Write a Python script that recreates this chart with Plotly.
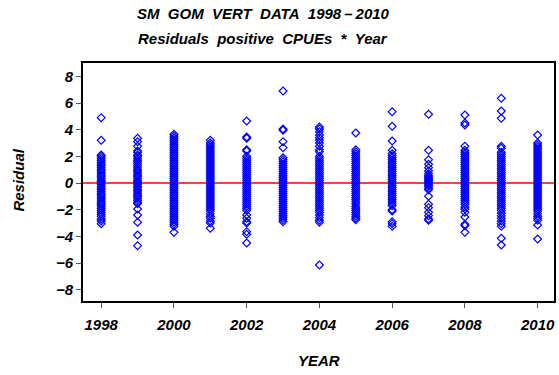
import plotly.graph_objects as go

years = list(range(1998, 2011))

r1998 = [4.9, 3.2, 2.1, 2.0, 1.85, 1.7, 1.55, 1.4, 1.3, 1.15, 1.0, 0.9, 0.75, 0.6, 0.5, 0.35, 0.2, 0.1, 0.0,
         -0.1, -0.25, -0.4, -0.5, -0.65, -0.8, -0.9, -1.05, -1.2, -1.35, -1.5, -1.6, -1.75, -1.9, -2.05,
         -2.2, -2.35, -2.5, -2.7, -2.85, -3.05]
r1999 = [3.35, 3.1, 2.75, 2.4, 2.3, 2.1, 2.0, 1.85, 1.7, 1.6, 1.45, 1.3, 1.15, 1.0, 0.9, 0.75, 0.6, 0.5, 0.35,
         0.2, 0.1, 0.0, -0.1, -0.25, -0.35, -0.5, -0.6, -0.75, -0.9, -1.0, -1.15, -1.3, -1.45, -1.55, -1.95,
         -2.4, -2.95, -3.9, -4.7]
r2000 = [3.65, 3.5, 3.35, 3.2, 3.05, 2.9, 2.75, 2.6, 2.45, 2.3, 2.15, 2.0, 1.85, 1.7, 1.55, 1.4, 1.25, 1.1,
         0.95, 0.8, 0.65, 0.5, 0.35, 0.2, 0.05, -0.1, -0.25, -0.4, -0.55, -0.7, -0.85, -1.0, -1.15, -1.3,
         -1.45, -1.6, -1.75, -1.9, -2.05, -2.2, -2.35, -2.5, -2.65, -2.8, -2.95, -3.1, -3.25, -3.7]
r2001 = [3.2, 3.0, 2.85, 2.7, 2.55, 2.4, 2.25, 2.1, 1.95, 1.8, 1.65, 1.5, 1.35, 1.2, 1.05, 0.9, 0.75, 0.6,
         0.45, 0.3, 0.15, 0.0, -0.15, -0.3, -0.45, -0.6, -0.75, -0.9, -1.05, -1.2, -1.35, -1.5, -1.65, -1.8,
         -1.95, -2.1, -2.3, -2.5, -2.65, -2.85, -3.0, -3.4]
r2002 = [4.65, 3.45, 3.35, 2.5, 2.4, 2.0, 1.85, 1.7, 1.55, 1.4, 1.25, 1.1, 0.95, 0.8, 0.65, 0.5, 0.35, 0.2,
         0.05, -0.1, -0.25, -0.4, -0.55, -0.7, -0.85, -1.0, -1.15, -1.3, -1.45, -1.6, -1.75, -1.9, -2.05,
         -2.4, -2.65, -2.9, -3.0, -3.65, -3.85, -4.5]
r2003 = [6.9, 4.05, 3.95, 3.1, 2.65, 1.9, 1.75, 1.6, 1.45, 1.3, 1.15, 1.0, 0.85, 0.7, 0.55, 0.4, 0.25, 0.1,
         -0.05, -0.2, -0.35, -0.5, -0.65, -0.8, -0.95, -1.1, -1.25, -1.4, -1.55, -1.7, -1.85, -2.0, -2.15,
         -2.3, -2.45, -2.6, -2.75, -2.9]
r2004 = [4.2, 4.05, 3.85, 3.6, 3.4, 3.2, 3.0, 2.75, 2.5, 2.35, 2.0, 1.85, 1.7, 1.55, 1.4, 1.25, 1.1, 0.95,
         0.8, 0.65, 0.5, 0.35, 0.2, 0.05, -0.1, -0.25, -0.4, -0.55, -0.7, -0.85, -1.0, -1.15, -1.3, -1.45,
         -1.6, -1.75, -1.9, -2.05, -2.2, -2.4, -2.6, -2.8, -2.95, -6.15]
r2005 = [3.75, 2.5, 2.35, 2.2, 2.05, 1.9, 1.75, 1.6, 1.45, 1.3, 1.15, 1.0, 0.85, 0.7, 0.55, 0.4, 0.25, 0.1,
         -0.05, -0.2, -0.35, -0.5, -0.65, -0.8, -0.95, -1.1, -1.25, -1.4, -1.55, -1.75, -1.9, -2.05, -2.2,
         -2.35, -2.5, -2.65, -2.75]
r2006 = [5.35, 4.25, 3.15, 2.45, 2.2, 2.05, 1.9, 1.75, 1.6, 1.45, 1.3, 1.15, 1.0, 0.85, 0.7, 0.55, 0.4, 0.25,
         0.1, -0.05, -0.2, -0.35, -0.5, -0.65, -0.8, -0.95, -1.1, -1.25, -1.4, -1.55, -1.7, -2.0, -2.1,
         -2.9, -3.05, -3.25]
r2007 = [5.15, 2.45, 1.75, 1.4, 1.15, 0.9, 0.7, 0.55, 0.45, 0.35, 0.25, 0.15, 0.05, -0.05, -0.15, -0.25,
         -0.4, -0.5, -1.0, -1.6, -1.85, -2.2, -2.45, -2.7, -2.8]
r2008 = [5.1, 4.5, 4.35, 2.75, 2.45, 2.3, 2.15, 2.0, 1.85, 1.7, 1.55, 1.4, 1.25, 1.1, 0.95, 0.8, 0.65, 0.5,
         0.35, 0.2, 0.05, -0.1, -0.25, -0.4, -0.55, -0.7, -0.85, -1.0, -1.15, -1.3, -1.45, -1.6, -1.8,
         -1.95, -2.2, -2.55, -3.1, -3.2, -3.7]
r2009 = [6.35, 5.4, 4.85, 2.75, 2.6, 2.3, 2.15, 2.0, 1.85, 1.7, 1.55, 1.4, 1.25, 1.1, 0.95, 0.8, 0.65, 0.5,
         0.35, 0.2, 0.05, -0.1, -0.25, -0.4, -0.55, -0.7, -0.85, -1.0, -1.15, -1.3, -1.45, -1.6, -1.75,
         -1.9, -2.05, -2.25, -2.45, -2.65, -2.85, -3.05, -3.25, -4.15, -4.65]
r2010 = [3.6, 3.0, 2.85, 2.7, 2.55, 2.4, 2.25, 2.1, 1.95, 1.8, 1.65, 1.5, 1.35, 1.2, 1.05, 0.9, 0.75, 0.6,
         0.45, 0.3, 0.15, 0.0, -0.15, -0.3, -0.45, -0.6, -0.75, -0.9, -1.05, -1.2, -1.35, -1.5, -1.65, -1.8,
         -1.95, -2.1, -2.3, -2.5, -2.65, -2.8, -3.15, -4.2]

residuals = [r1998, r1999, r2000, r2001, r2002, r2003, r2004, r2005, r2006, r2007, r2008, r2009, r2010]

x_ticks = [1998, 2000, 2002, 2004, 2006, 2008, 2010]
y_ticks = [-8, -6, -4, -2, 0, 2, 4, 6, 8]

xs, ys = [], []
for yr, vals in zip(years, residuals):
    xs += [yr] * len(vals)
    ys += vals

FONT = "Liberation Sans"
fig = go.Figure()
fig.add_trace(go.Scatter(
    x=xs, y=ys, mode="markers",
    marker=dict(symbol="diamond-open", size=6, color="#0000FF", line=dict(width=1.2, color="#0000FF")),
    showlegend=False, hoverinfo="skip"))

fig.add_shape(type="line", xref="paper", yref="y", x0=0, x1=1, y0=0, y1=0, layer="below",
              line=dict(color="#FF0000", width=1.3))

tickfont = dict(family=FONT, size=15, color="black", weight="bold", style="italic")
fig.update_xaxes(range=[1997.5, 2010.45], tickvals=x_ticks, ticktext=[str(t) for t in x_ticks],
                 showgrid=False, zeroline=False, showline=True, mirror=True, linecolor="black",
                 linewidth=2, ticks="outside", ticklen=5, tickcolor="#555555", tickwidth=1,
                 tickfont=tickfont, ticklabelstandoff=4)
fig.update_yaxes(range=[-8.85, 9.0], tickvals=y_ticks, ticktext=[str(t).replace("-", "\u2212") for t in y_ticks],
                 showgrid=False, zeroline=False, showline=True, mirror=True, linecolor="black",
                 linewidth=2, ticks="outside", ticklen=5, tickcolor="#555555", tickwidth=1,
                 tickfont=tickfont)

sp = "\u00a0\u00a0"
titlefont = dict(family=FONT, size=15, color="black", weight="bold", style="italic")
ann = [
    dict(text=f"SM{sp}GOM{sp}VERT{sp}DATA{sp}1998\u2009\u2013\u20092010", x=0.383, y=1.206),
    dict(text=f"Residuals{sp}positive{sp}CPUEs{sp}*{sp}Year", x=0.383, y=1.105),
    dict(text="YEAR", x=0.501, y=-0.248),
]
for a in ann:
    fig.add_annotation(xref="paper", yref="paper", showarrow=False, xanchor="center", yanchor="middle",
                       font=titlefont, **a)
fig.add_annotation(text="Residual", xref="paper", yref="paper", x=-0.137, y=0.508, textangle=-90,
                   showarrow=False, xanchor="center", yanchor="middle", font=titlefont)

fig.update_layout(width=559, height=375, margin=dict(l=83, r=3, t=63, b=74),
                  paper_bgcolor="white", plot_bgcolor="white")
fig.write_html("out.html")
